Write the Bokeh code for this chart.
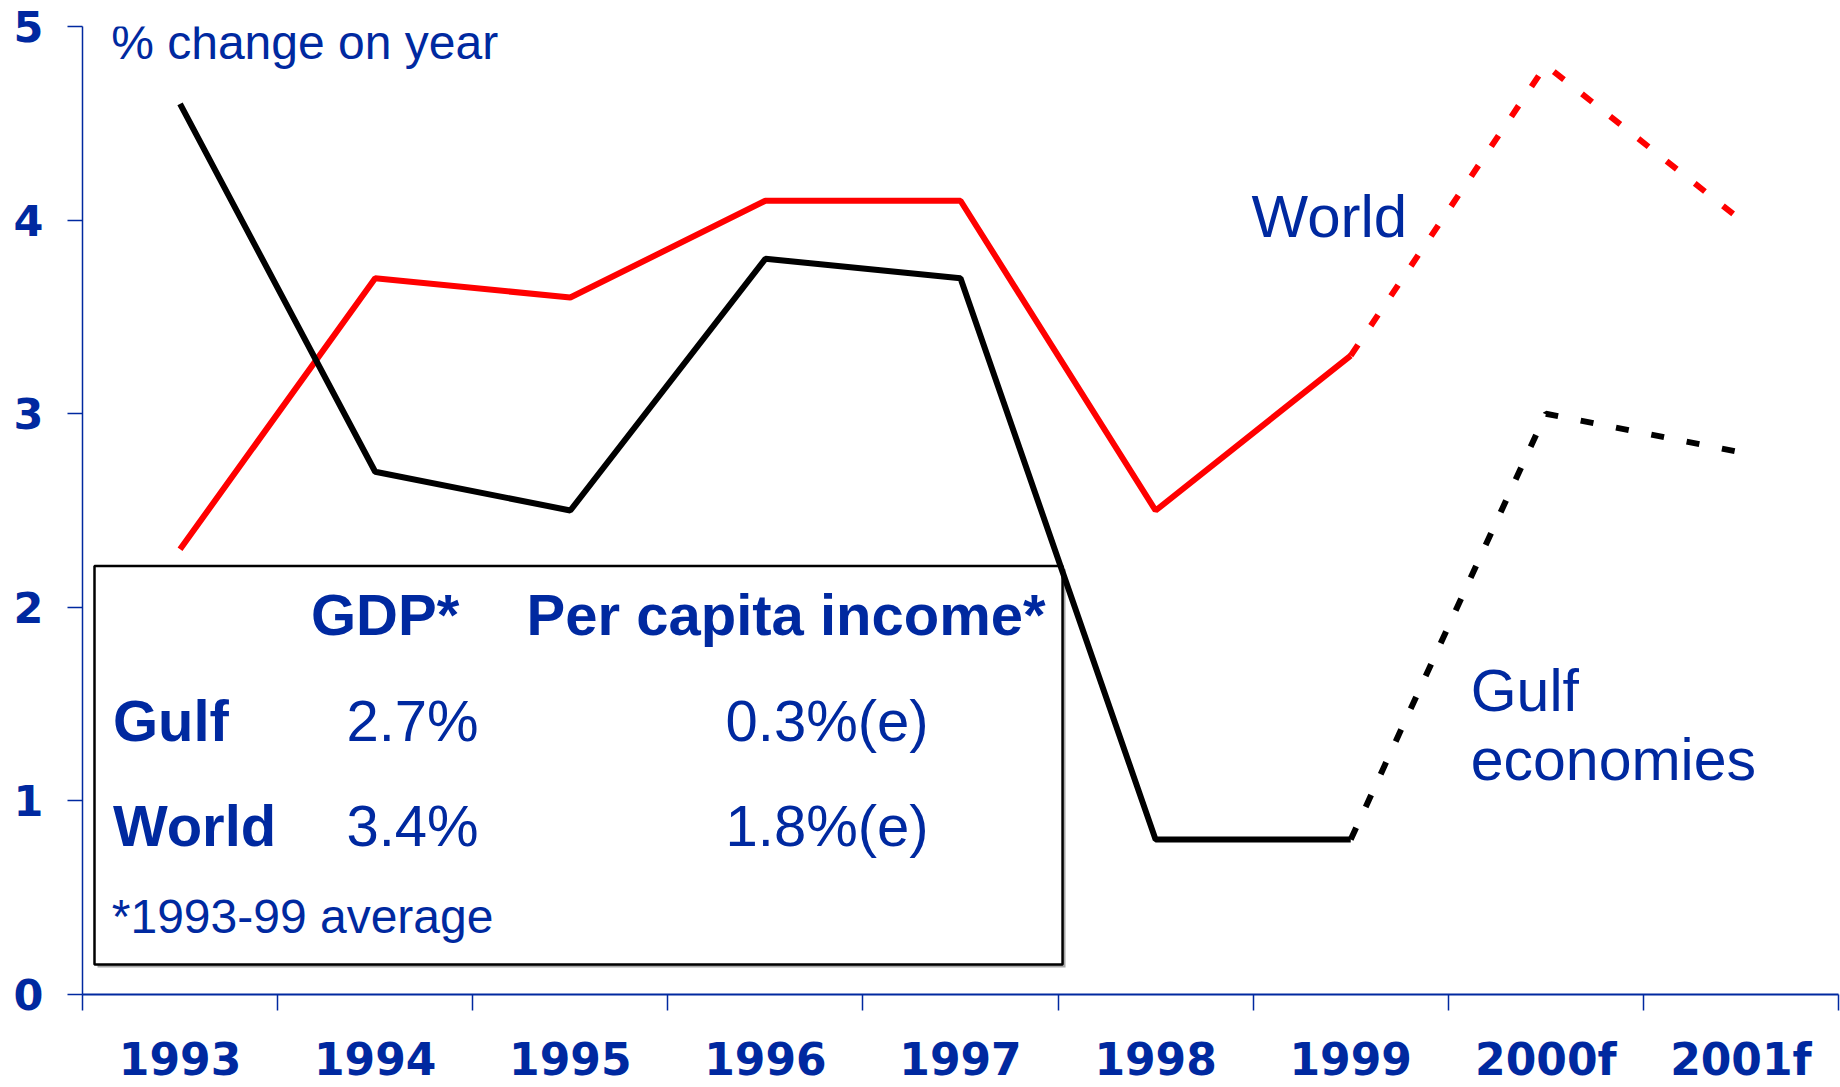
from bokeh.plotting import figure
from bokeh.models import Range1d, FixedTicker, BoxAnnotation, Label
from bokeh.embed import file_html
from bokeh.resources import INLINE

# ---------------- data ----------------
years = ["1993", "1994", "1995", "1996", "1997", "1998", "1999", "2000f", "2001f"]
world = [2.3, 3.7, 3.6, 4.1, 4.1, 2.5, 3.3, 4.8, 4.0]
gulf = [4.6, 2.7, 2.5, 3.8, 3.7, 0.8, 0.8, 3.0, 2.8]
n_actual = 7          # 1993..1999 are actuals, later years are forecasts
y_ticks = [0, 1, 2, 3, 4, 5]

table_cols = ["GDP*", "Per capita income*"]
table_rows = ["Gulf", "World"]
table_gdp = ["2.7%", "3.4%"]
table_pci = ["0.3%(e)", "1.8%(e)"]
footnote = "*1993-99 average"

BLUE = "#0029A0"
RED = "#FF0000"
LW = 6

# category centres / boundaries on a numeric scale
xc = [i + 0.5 for i in range(len(years))]
xb = list(range(len(years) + 1))

p = figure(width=1840, height=1087, output_backend="svg", toolbar_location=None,
           x_range=Range1d(0, len(years)), y_range=Range1d(0, 5),
           min_border_left=82, min_border_right=2, min_border_top=26, min_border_bottom=92,
           outline_line_color=None, background_fill_color="white",
           border_fill_color="white")
p.grid.visible = False

# ---- x axis
ax = p.xaxis[0]
ax.ticker = FixedTicker(ticks=xc, minor_ticks=xb)
ax.major_label_overrides = {x: y for x, y in zip(xc, years)}
ax.major_tick_out = 0
ax.major_tick_in = 0
ax.minor_tick_out = 16
ax.minor_tick_in = 0
ax.minor_tick_line_color = BLUE
ax.minor_tick_line_width = 1.5
ax.axis_line_color = BLUE
ax.axis_line_width = 2
ax.major_label_standoff = 23
ax.major_label_text_font = "DejaVu Sans"
ax.major_label_text_font_style = "bold"
ax.major_label_text_font_size = "44px"
ax.major_label_text_color = BLUE

# ---- y axis
ay = p.yaxis[0]
ay.ticker = FixedTicker(ticks=y_ticks)
ay.major_tick_out = 15
ay.major_tick_in = 0
ay.minor_tick_out = 0
ay.minor_tick_in = 0
ay.major_tick_line_color = BLUE
ay.major_tick_line_width = 1.5
ay.axis_line_color = BLUE
ay.axis_line_width = 1.5
ay.major_label_standoff = 24
ay.major_label_text_font = "DejaVu Sans"
ay.major_label_text_font_style = "bold"
ay.major_label_text_font_size = "43px"
ay.major_label_text_color = BLUE

# ---- table box (underlay so the lines sit on top)
bl, br, bt, bb = 0.0615, 5.023, 2.2136, 0.1548
dx, dy = 3 / 195.11, 3 / 193.8
p.add_layout(BoxAnnotation(left=bl + dx, right=br + dx, top=bt - dy, bottom=bb - dy,
                           fill_color="#a8a8a8", fill_alpha=1, line_color=None,
                           level="underlay"))
p.add_layout(BoxAnnotation(left=bl, right=br, top=bt, bottom=bb,
                           fill_color="white", fill_alpha=1, line_color="black",
                           line_alpha=1, line_dash="solid", line_width=2.5,
                           level="underlay"))

# ---- lines
p.line(xc[:n_actual], world[:n_actual], line_color=RED, line_width=LW)
p.line(xc[n_actual - 1:], world[n_actual - 1:], line_color=RED, line_width=LW,
       line_dash="13 23")
p.line(xc[:n_actual], gulf[:n_actual], line_color="black", line_width=LW)
p.line(xc[n_actual - 1:], gulf[n_actual - 1:], line_color="black", line_width=LW,
       line_dash="13 23")


def lab(x, y, text, size, bold=False):
    # empirical baseline correction (in px) converted to data units
    y_adj = y + 0.37 * size / 193.8
    p.add_layout(Label(x=x, y=y_adj, text=text, text_font="Liberation Sans",
                       text_font_size=f"{size}px",
                       text_font_style="bold" if bold else "normal",
                       text_color=BLUE, text_baseline="alphabetic",
                       text_align="left"))


lab(0.147, 4.825, "% change on year", 48)
lab(5.992, 3.906, "World", 60)
lab(7.115, 1.455, "Gulf", 59)
lab(7.115, 1.099, "economies", 59)

# table content
lab(1.171, 1.852, table_cols[0], 58, bold=True)
lab(2.276, 1.852, table_cols[1], 58, bold=True)
row_y = [1.3055, 0.7637]
for ry, rname, g, pc in zip(row_y, table_rows, table_gdp, table_pci):
    lab(0.156, ry, rname, 58, bold=True)
    lab(1.353, ry, g, 58)
    lab(3.296, ry, pc, 58)
lab(0.15, 0.3096, footnote, 48)

open("out.html", "w").write(file_html(p, INLINE))
